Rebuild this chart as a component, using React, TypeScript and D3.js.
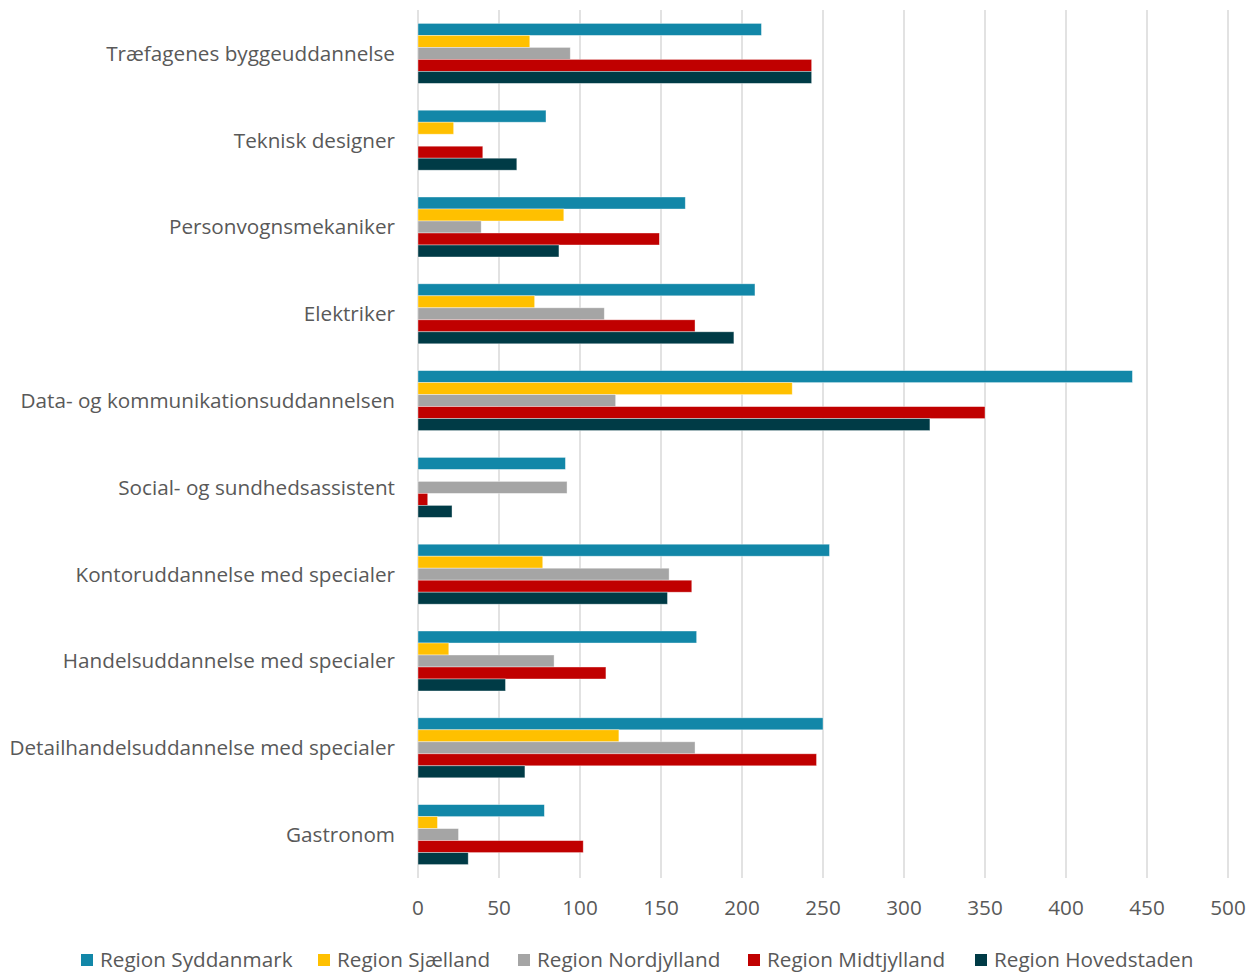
import React from "react";
import * as d3 from "d3";

const categories = [
  "Træfagenes byggeuddannelse",
  "Teknisk designer",
  "Personvognsmekaniker",
  "Elektriker",
  "Data- og kommunikationsuddannelsen",
  "Social- og sundhedsassistent",
  "Kontoruddannelse med specialer",
  "Handelsuddannelse med specialer",
  "Detailhandelsuddannelse med specialer",
  "Gastronom",
];

const seriesNames = [
  "Region Syddanmark",
  "Region Sjælland",
  "Region Nordjylland",
  "Region Midtjylland",
  "Region Hovedstaden",
];

const syddanmark = [212, 79, 165, 208, 441, 91, 254, 172, 250, 78];
const sjaelland = [69, 22, 90, 72, 231, 0, 77, 19, 124, 12];
const nordjylland = [94, 0, 39, 115, 122, 92, 155, 84, 171, 25];
const midtjylland = [243, 40, 149, 171, 350, 6, 169, 116, 246, 102];
const hovedstaden = [243, 61, 87, 195, 316, 21, 154, 54, 66, 31];

const seriesValues = [syddanmark, sjaelland, nordjylland, midtjylland, hovedstaden];
const colors = ["#1287A8", "#FFC000", "#A5A5A5", "#C00000", "#003B46"];
const xTicks = [0, 50, 100, 150, 200, 250, 300, 350, 400, 450, 500];

const W = 1255;
const H = 972;
const left = 418;
const right = 1228;
const top = 10;
const bottom = 878;
const FONT = "'Open Sans', sans-serif";
const FS = 20.7;
const TEXT = "#595959";

export default function App() {
  const x = d3.scaleLinear().domain([0, 500]).range([left, right]);
  const y0 = d3
    .scaleBand<string>()
    .domain(categories)
    .range([top, bottom])
    .paddingInner(0.309)
    .paddingOuter(0.1545);
  const y1 = d3
    .scaleBand<string>()
    .domain(seriesNames)
    .range([0, y0.bandwidth()]);

  const legendX = [81, 318, 518, 748, 975];

  return (
    <div style={{ position: "absolute", left: 0, top: 0 }}>
      <svg width={W} height={H} style={{ display: "block", background: "#fff" }}>
        {xTicks.map((t) => (
          <line
            key={"g" + t}
            x1={x(t)}
            x2={x(t)}
            y1={top}
            y2={bottom}
            stroke="#D9D9D9"
            strokeWidth={1.5}
          />
        ))}
        {categories.map((c, ci) => (
          <g key={c} transform={`translate(0,${y0(c)})`}>
            {seriesNames.map((s, si) => {
              const v = seriesValues[si][ci];
              if (!v) return null;
              return (
                <rect
                  key={s}
                  x={x(0)}
                  y={y1(s)}
                  width={x(v) - x(0)}
                  height={y1.bandwidth()}
                  fill={colors[si]}
                  stroke="rgba(255,255,255,0.5)"
                  strokeWidth={0.75}
                />
              );
            })}
            <text
              x={395}
              y={y0.bandwidth() / 2}
              dy="0.36em"
              textAnchor="end"
              fontFamily={FONT}
              fontSize={FS}
              fill={TEXT}
            >
              {c}
            </text>
          </g>
        ))}
        {xTicks.map((t) => (
          <text
            key={"t" + t}
            x={x(t)}
            y={908}
            dy="0.35em"
            textAnchor="middle"
            fontFamily={FONT}
            fontSize={FS}
            fill={TEXT}
          >
            {t}
          </text>
        ))}
        {seriesNames.map((s, i) => (
          <g key={"l" + s} transform={`translate(${legendX[i]},0)`}>
            <rect x={0} y={954} width={12} height={12} fill={colors[i]} />
            <text
              x={19}
              y={960}
              dy="0.35em"
              fontFamily={FONT}
              fontSize={FS}
              fill={TEXT}
            >
              {s}
            </text>
          </g>
        ))}
      </svg>
    </div>
  );
}
